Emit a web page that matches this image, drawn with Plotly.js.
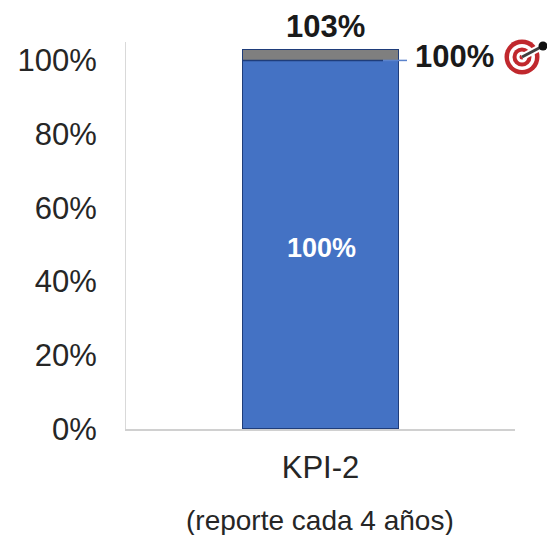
<!DOCTYPE html>
<html><head><meta charset="utf-8"><script src="https://cdn.plot.ly/plotly-3.0.1.min.js"></script>
<style>html,body{margin:0;padding:0;background:#fff}</style></head><body><div id="c" style="width:547px;height:535px"></div>
<script>
const categories=["KPI-2"];
const achieved=[100];
const excess=[3];
const target=100;
const totalLabel="103%", achievedLabel="100%", targetLabel="100%";
const note="(reporte cada 4 años)";
const yTicks=[0,20,40,60,80,100];
const L=126,T=42,W=389,H=387;
const px=x=>(x-L)/W, py=y=>(T+H-y)/H;
const F="Liberation Sans, Arial, sans-serif";
function circle(cx,cy,r,fill){return {type:"circle",xref:"paper",yref:"paper",x0:px(cx-r),x1:px(cx+r),y0:py(cy+r),y1:py(cy-r),fillcolor:fill,line:{width:0},layer:"above"};}
function seg(x0,y0,x1,y1,color,w){return {type:"line",xref:"paper",yref:"paper",x0:px(x0),x1:px(x1),y0:py(y0),y1:py(y1),line:{color:color,width:w},layer:"above"};}
const data=[
 {type:"bar",x:categories,y:achieved,marker:{color:"#4472C4",line:{color:"#1F3D7A",width:1.5}},hoverinfo:"skip"},
 {type:"bar",x:categories,y:excess,marker:{color:"#7F7F7F",line:{color:"#1F3D7A",width:1.5}},hoverinfo:"skip"}
];
const layout={width:547,height:535,margin:{l:L,r:547-L-W,t:T,b:535-T-H},barmode:"stack",bargap:0.6,showlegend:false,paper_bgcolor:"#fff",plot_bgcolor:"#fff",
 font:{family:F,color:"#262626"},
 xaxis:{type:"category",showline:true,linecolor:"#D0D0D0",linewidth:1.5,ticks:"",tickfont:{size:31,color:"#262626"},showgrid:false,ticklen:0,ticklabelstandoff:10},
 yaxis:{range:[0,105],tickvals:yTicks,ticktext:yTicks.map(v=>v+"%"),showline:true,linecolor:"#D9D9D9",linewidth:1,showgrid:false,zeroline:false,ticks:"",tickfont:{size:31,color:"#262626"},ticklabelstandoff:22},
 shapes:[
  {type:"line",xref:"paper",yref:"y",x0:px(243),x1:px(383),y0:target,y1:target,line:{color:"#1F3D7A",width:1.5},layer:"above"},
  {type:"line",xref:"paper",yref:"y",x0:px(383),x1:px(407),y0:target,y1:target,line:{color:"#5B83CC",width:1.5},layer:"above"},
  circle(522,57,17.5,"#C0282D"),circle(522,57,13,"#fff"),circle(522,57,9.5,"#C0282D"),circle(522,57,5.5,"#fff"),circle(522,57,2.5,"#C0282D"),
  seg(522,57,541,47,"#fff",7),seg(522,57,541,47,"#404040",3),circle(543,46,4.5,"#111")
 ],
 annotations:[
  {xref:"paper",yref:"paper",x:px(325),y:py(26),text:"<b>"+totalLabel+"</b>",showarrow:false,font:{size:31,color:"#1a1a1a"},xanchor:"center",yanchor:"middle"},
  {xref:"paper",yref:"paper",x:px(321),y:py(248),text:"<b>"+achievedLabel+"</b>",showarrow:false,font:{size:27,color:"#fff"},xanchor:"center",yanchor:"middle"},
  {xref:"paper",yref:"paper",x:px(454),y:py(57),text:"<b>"+targetLabel+"</b>",showarrow:false,font:{size:31,color:"#1a1a1a"},xanchor:"center",yanchor:"middle"},
  {xref:"paper",yref:"paper",x:px(319.5),y:py(520),text:note,showarrow:false,font:{size:28,color:"#262626"},xanchor:"center",yanchor:"middle"}
 ]};
Plotly.newPlot("c",data,layout,{displayModeBar:false,staticPlot:true});
</script></body></html>
